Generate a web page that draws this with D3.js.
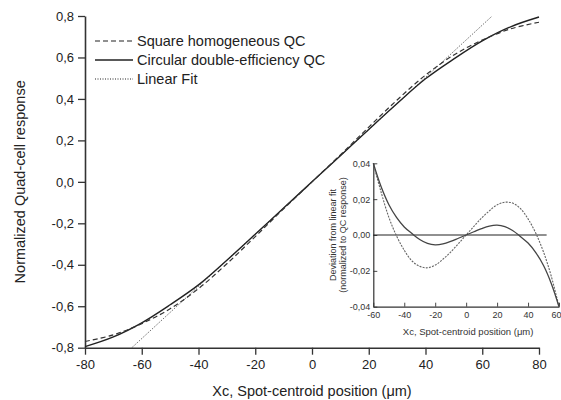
<!DOCTYPE html>
<html>
<head>
<meta charset="utf-8">
<script src="https://cdn.jsdelivr.net/npm/d3@7"></script>
<style>
  body { margin: 0; background: #fff; }
  svg, svg text { font-family: "Liberation Sans", Arial, sans-serif; }
</style>
</head>
<body>
<svg id="chart" width="561" height="400"></svg>
<script>
// main curves
const mainX = [-80, -70, -60, -50, -40, -30, -20, -10, 0, 10, 20, 30, 40, 50, 60, 70, 80];
const squareQC = [-0.77, -0.738, -0.684, -0.612, -0.515, -0.395, -0.264, -0.13, 0,
    0.13, 0.264, 0.395, 0.515, 0.612, 0.684, 0.738, 0.77];
const circularQC = [-0.795, -0.748, -0.68, -0.593, -0.497, -0.378, -0.253, -0.126, 0,
    0.126, 0.253, 0.378, 0.497, 0.593, 0.68, 0.748, 0.795];
const fitX = [-63.5, 63.5];
const fitY = [-0.8, 0.8];

// inset: deviation from linear fit
const insetX = [-60, -55, -50, -45, -40, -35, -30, -25, -20, -15, -10, -5, 0,
    5, 10, 15, 20, 25, 30, 35, 40, 45, 50, 55, 60];
const squareDev = [0.04, 0.024, 0.01, -0.0005, -0.0085, -0.0145, -0.0175, -0.0183, -0.0168, -0.0135, -0.0095, -0.0048, 0,
    0.0048, 0.0095, 0.0135, 0.0168, 0.0183, 0.0178, 0.0148, 0.009, 0.001, -0.0095, -0.023, -0.04];
const circularDev = [0.04, 0.027, 0.017, 0.0098, 0.0045, 0.0008, -0.0025, -0.0047, -0.0055, -0.005, -0.0036, -0.0018, 0,
    0.0018, 0.0036, 0.005, 0.0055, 0.0047, 0.0025, -0.0008, -0.0045, -0.0098, -0.017, -0.027, -0.04];
const zeroLineX = [-60, 52];

const mainXTicks = [-80, -60, -40, -20, 0, 20, 40, 60, 80];
const mainYTicks = [-0.8, -0.6, -0.4, -0.2, 0, 0.2, 0.4, 0.6, 0.8];
const insetXTicks = [-60, -40, -20, 0, 20, 40, 60];
const insetYTicks = [-0.04, -0.02, 0, 0.02, 0.04];

const legendItems = [
    { name: "Square homogeneous QC", dash: "5,3", width: 1.2 },
    { name: "Circular double-efficiency QC", dash: null, width: 1.4 },
    { name: "Linear Fit", dash: "1,1.5", width: 1 }
];

const loc = d3.formatLocale({ decimal: ",", thousands: ".", grouping: [3], currency: ["", ""], minus: "-" });
const fmt1 = loc.format(".1f");
const fmt2 = loc.format(".2f");
const fmt0 = loc.format("d");

const ink = "#222";
const svg = d3.select('#chart');

// ---------- main plot
const x = d3.scaleLinear().domain([-80, 80]).range([85, 539]);
const y = d3.scaleLinear().domain([-0.8, 0.8]).range([347.7, 16]);

const xAxis = svg.append('g')
    .attr('transform', `translate(0, ${y(-0.8)})`)
    .call(d3.axisBottom(x).tickValues(d3.range(-70, 80, 20)).tickSize(4).tickFormat(''))
    .call(d3.axisBottom(x).tickValues(mainXTicks).tickSize(7).tickSizeOuter(0).tickFormat(fmt0));

const yAxis = svg.append('g')
    .attr('transform', `translate(${x(-80)}, 0)`)
    .call(d3.axisLeft(y).tickValues(d3.range(-0.7, 0.8, 0.2)).tickSize(4).tickFormat(''))
    .call(d3.axisLeft(y).tickValues(mainYTicks).tickSize(7).tickSizeOuter(0).tickFormat(fmt1));

[xAxis, yAxis].forEach(a => {
    a.selectAll('path').attr('stroke', '#333').attr('stroke-width', 1.6);
    a.selectAll('line').attr('stroke', '#333').attr('stroke-width', 1.3);
    a.selectAll('text').attr('fill', ink).attr('font-size', 13)
        .attr('font-family', '"Liberation Sans", Arial, sans-serif');
});
xAxis.selectAll('text').attr('dy', '0.9em');
yAxis.selectAll('text').attr('x', -11);

svg.append('text')
    .attr('x', x(0)).attr('y', 396)
    .attr('text-anchor', 'middle')
    .attr('font-size', 14.5).attr('fill', ink)
    .text('Xc, Spot-centroid position (\u03bcm)');

svg.append('text')
    .attr('transform', `translate(25, ${y(0)}) rotate(-90)`)
    .attr('text-anchor', 'middle')
    .attr('font-size', 14.5).attr('fill', ink)
    .text('Normalized Quad-cell response');

const mainLine = d3.line()
    .x(d => x(d[0]))
    .y(d => y(d[1]))
    .curve(d3.curveCatmullRom);

svg.append('path')
    .datum(d3.zip(fitX, fitY))
    .attr('d', mainLine)
    .attr('fill', 'none').attr('stroke', '#444')
    .attr('stroke-width', 1).attr('stroke-dasharray', '1,1.5');

svg.append('path')
    .datum(d3.zip(mainX, circularQC))
    .attr('d', mainLine)
    .attr('fill', 'none').attr('stroke', ink).attr('stroke-width', 1.4);

svg.append('path')
    .datum(d3.zip(mainX, squareQC))
    .attr('d', mainLine)
    .attr('fill', 'none').attr('stroke', '#333')
    .attr('stroke-width', 1.2).attr('stroke-dasharray', '5,3');

// legend
const legend = svg.append('g').attr('transform', 'translate(95, 41)');
legendItems.forEach((item, i) => {
    const row = legend.append('g').attr('transform', `translate(0, ${i * 19})`);
    row.append('line')
        .attr('x1', 0).attr('x2', 38)
        .attr('stroke', ink).attr('stroke-width', item.width)
        .attr('stroke-dasharray', item.dash);
    row.append('text')
        .attr('x', 42).attr('y', 5)
        .attr('font-size', 14.5).attr('fill', ink)
        .text(item.name);
});

// ---------- inset
const xi = d3.scaleLinear().domain([-60, 60]).range([373.3, 559]);
const yi = d3.scaleLinear().domain([-0.04, 0.04]).range([306.7, 163.3]);

const xiAxis = svg.append('g')
    .attr('transform', `translate(0, ${yi(-0.04)})`)
    .call(d3.axisTop(xi).tickValues(d3.range(-50, 60, 20)).tickSize(2.5).tickFormat(''))
    .call(d3.axisTop(xi).tickValues(insetXTicks).tickSize(4).tickSizeOuter(0).tickFormat(''));
xiAxis.selectAll('.tick').filter(d => insetXTicks.includes(d))
    .append('text')
    .attr('y', 11)
    .attr('text-anchor', d => d === 60 ? 'end' : 'middle')
    .attr('x', d => d === 60 ? 2 : 0)
    .text(d => fmt0(d));

const yiAxis = svg.append('g')
    .attr('transform', `translate(${xi(-60)}, 0)`)
    .call(d3.axisRight(yi).tickValues(d3.range(-0.03, 0.04, 0.02)).tickSize(2.5).tickFormat(''))
    .call(d3.axisRight(yi).tickValues(insetYTicks).tickSize(4).tickSizeOuter(0).tickFormat(''));
yiAxis.selectAll('.tick').filter(d => insetYTicks.some(t => Math.abs(t - d) < 1e-9))
    .append('text')
    .attr('x', -3).attr('dy', '0.32em').attr('text-anchor', 'end')
    .text(d => fmt2(d));

[xiAxis, yiAxis].forEach(a => {
    a.selectAll('path').attr('stroke', '#333').attr('stroke-width', 1.2);
    a.selectAll('line').attr('stroke', '#333').attr('stroke-width', 0.9);
    a.selectAll('text').attr('fill', '#333').attr('font-size', 9)
        .attr('font-family', '"Liberation Sans", Arial, sans-serif');
});

svg.append('text')
    .attr('x', xi(0) + 2).attr('y', 335)
    .attr('text-anchor', 'middle')
    .attr('font-size', 9.5).attr('fill', '#333')
    .text('Xc, Spot-centroid position (\u03bcm)');

const insetLabel = svg.append('text')
    .attr('transform', `translate(336, ${yi(0)}) rotate(-90)`)
    .attr('text-anchor', 'middle')
    .attr('font-size', 9).attr('fill', '#333');
insetLabel.append('tspan').attr('x', 0).attr('dy', 0).text('Deviation from linear fit');
insetLabel.append('tspan').attr('x', 0).attr('dy', 10).text('(normalized to QC response)');

const insetLine = d3.line()
    .x(d => xi(d[0]))
    .y(d => yi(d[1]))
    .curve(d3.curveCatmullRom);

svg.append('path')
    .datum(zeroLineX.map(v => [v, 0]))
    .attr('d', insetLine)
    .attr('fill', 'none').attr('stroke', '#222').attr('stroke-width', 1.2);

svg.append('path')
    .datum(d3.zip(insetX, squareDev))
    .attr('d', insetLine)
    .attr('fill', 'none').attr('stroke', '#666')
    .attr('stroke-width', 1.1).attr('stroke-dasharray', '2,1.2');

svg.append('path')
    .datum(d3.zip(insetX, circularDev))
    .attr('d', insetLine)
    .attr('fill', 'none').attr('stroke', '#444').attr('stroke-width', 1.3);
</script>
</body>
</html>
